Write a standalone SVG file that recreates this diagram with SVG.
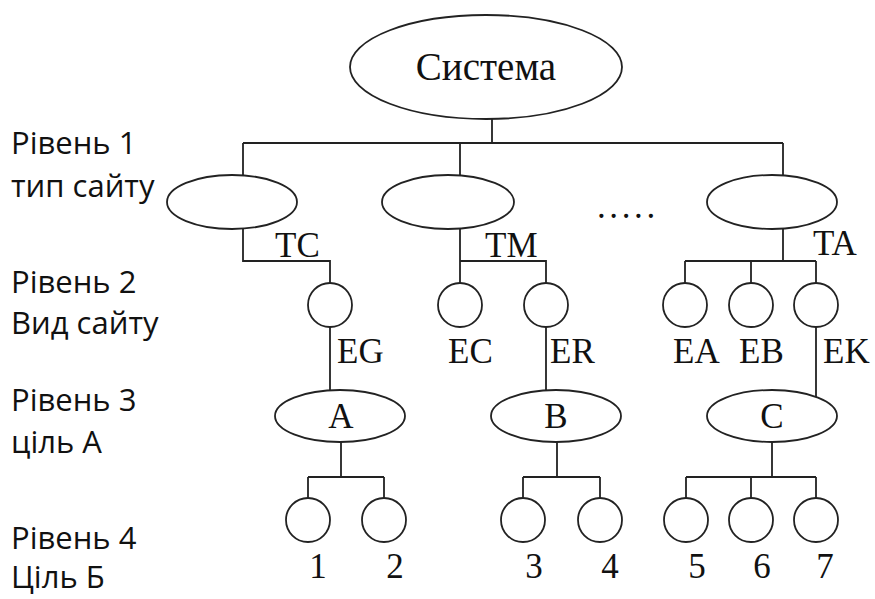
<svg xmlns="http://www.w3.org/2000/svg" width="875" height="599" viewBox="0 0 875 599">
  <style>
    .shape { fill: #ffffff; stroke: #222222; stroke-width: 1.8; }
    .wire { fill: none; stroke: #222222; stroke-width: 1.8; }
    .serif { font-family: "Liberation Serif", "Times New Roman", serif; font-size: 35px; fill: #111111; }
    .mid { text-anchor: middle; }
    .side { font-family: "Open Sans", "Noto Sans", sans-serif; font-size: 31px; fill: #111111; }
  </style>
  <rect width="875" height="599" fill="#ffffff"/>

  <!-- level captions on the left -->
  <g id="captions">
    <text class="side" x="11" y="154">Рівень 1</text>
    <text class="side" x="11" y="197">тип сайту</text>
    <text class="side" x="11" y="293">Рівень 2</text>
    <text class="side" x="11" y="334">Вид сайту</text>
    <text class="side" x="11" y="411">Рівень 3</text>
    <text class="side" x="11" y="453">ціль А</text>
    <text class="side" x="11" y="549">Рівень 4</text>
    <text class="side" x="11" y="588">Ціль Б</text>
  </g>

  <!-- connectors -->
  <g id="connectors">
    <path class="wire" d="M492 119 V143 M243 143 H783 M243 143 V176 M460 143 V176 M783 143 V176"/>
    <path class="wire" d="M243 229 V261 H330 V283"/>
    <path class="wire" d="M460 229 V283 M460 261 H546 V283"/>
    <path class="wire" d="M783 229 V261 M685 261 H816 M685 261 V283 M751 261 V283 M816 261 V283"/>
    <path class="wire" d="M330 327 V391 M546 327 V391 M816 327 V397"/>
    <path class="wire" d="M341 442 V477 M308 477 H384 M308 477 V498 M384 477 V498"/>
    <path class="wire" d="M557 442 V477 M523 477 H600 M523 477 V498 M600 477 V498"/>
    <path class="wire" d="M772 442 V477 M686 477 H816 M686 477 V498 M751 477 V498 M816 477 V498"/>
  </g>

  <!-- root -->
  <g id="system">
    <ellipse class="shape" cx="486" cy="67" rx="136" ry="52"/>
    <text class="serif mid" x="486" y="80" style="font-size:39px">Система</text>
  </g>

  <!-- level 1: site types -->
  <g id="type-tc">
    <ellipse class="shape" cx="232" cy="202" rx="65" ry="27"/>
    <text class="serif" x="275" y="257">TC</text>
  </g>
  <g id="type-tm">
    <ellipse class="shape" cx="448" cy="202" rx="66" ry="27"/>
    <text class="serif" x="485" y="257">TM</text>
  </g>
  <g id="type-more">
    <text class="serif" x="597" y="218" letter-spacing="3.6">.....</text>
  </g>
  <g id="type-ta">
    <ellipse class="shape" cx="772" cy="202" rx="65" ry="27"/>
    <text class="serif" x="813" y="255">TA</text>
  </g>

  <!-- level 2: site kinds -->
  <g id="kind-eg">
    <circle class="shape" cx="330" cy="305" r="22"/>
    <text class="serif" x="337" y="363">EG</text>
  </g>
  <g id="kind-ec">
    <circle class="shape" cx="460" cy="305" r="22"/>
    <text class="serif" x="448" y="363">EC</text>
  </g>
  <g id="kind-er">
    <circle class="shape" cx="546" cy="305" r="22"/>
    <text class="serif" x="550" y="363">ER</text>
  </g>
  <g id="kind-ea">
    <circle class="shape" cx="685" cy="305" r="22"/>
    <text class="serif" x="673" y="363">EA</text>
  </g>
  <g id="kind-eb">
    <circle class="shape" cx="751" cy="305" r="22"/>
    <text class="serif" x="739" y="363">EB</text>
  </g>
  <g id="kind-ek">
    <circle class="shape" cx="816" cy="305" r="22"/>
    <text class="serif" x="823" y="363">EK</text>
  </g>

  <!-- level 3: goals -->
  <g id="goal-a">
    <ellipse class="shape" cx="340" cy="416" rx="65" ry="26"/>
    <text class="serif mid" x="341" y="428">A</text>
  </g>
  <g id="goal-b">
    <ellipse class="shape" cx="556" cy="416" rx="65" ry="26"/>
    <text class="serif mid" x="556" y="428">B</text>
  </g>
  <g id="goal-c">
    <ellipse class="shape" cx="772" cy="416" rx="65" ry="26"/>
    <text class="serif mid" x="772" y="428">C</text>
  </g>

  <!-- level 4: sub-goals -->
  <g id="sub-1">
    <circle class="shape" cx="308" cy="520" r="22"/>
    <text class="serif mid" x="318" y="578">1</text>
  </g>
  <g id="sub-2">
    <circle class="shape" cx="384" cy="520" r="22"/>
    <text class="serif mid" x="395" y="578">2</text>
  </g>
  <g id="sub-3">
    <circle class="shape" cx="523" cy="520" r="22"/>
    <text class="serif mid" x="534" y="578">3</text>
  </g>
  <g id="sub-4">
    <circle class="shape" cx="600" cy="520" r="22"/>
    <text class="serif mid" x="610" y="578">4</text>
  </g>
  <g id="sub-5">
    <circle class="shape" cx="686" cy="520" r="22"/>
    <text class="serif mid" x="697" y="578">5</text>
  </g>
  <g id="sub-6">
    <circle class="shape" cx="751" cy="520" r="22"/>
    <text class="serif mid" x="762" y="578">6</text>
  </g>
  <g id="sub-7">
    <circle class="shape" cx="816" cy="520" r="22"/>
    <text class="serif mid" x="825" y="578">7</text>
  </g>
</svg>
